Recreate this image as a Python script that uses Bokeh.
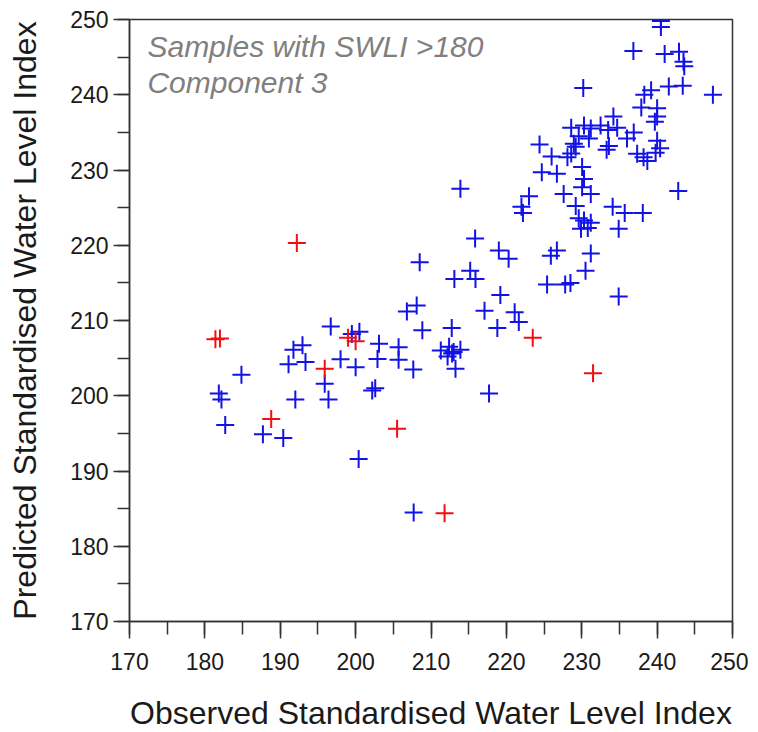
from bokeh.plotting import figure
from bokeh.models import Range1d, SingleIntervalTicker, Label, ColumnDataSource
from bokeh.embed import file_html
from bokeh.resources import INLINE

# ---- data ----
obs_blue = [181.85, 182.2, 182.7, 184.85, 187.7, 190.4, 192.0, 191.1, 191.75, 192.95,
            193.35, 195.9, 196.4, 196.7, 198.0, 199.5, 200.5, 200.0, 200.4, 202.2,
            202.6, 203.1, 202.9, 205.7, 205.7, 207.65, 206.8, 208.1, 208.85, 208.5,
            207.7, 211.3, 212.4, 213.0, 213.9, 212.2, 212.8, 213.25, 212.75, 213.1,
            215.2, 215.9, 215.85, 213.9, 217.1, 217.7, 218.8, 219.2, 219.0, 220.3,
            221.1, 221.65, 222.0, 222.2, 223.0, 224.4, 225.4, 225.9, 226.7, 224.7,
            226.7, 226.0, 227.6, 227.8, 228.5, 228.1, 228.6, 228.95, 229.2, 228.6,
            229.6, 230.3, 231.2, 230.95, 232.5, 233.5, 234.2, 234.7, 233.6, 233.3,
            230.05, 230.3, 230.05, 231.2, 229.2, 229.6, 230.3, 230.8, 229.9, 231.2,
            231.2, 230.5, 234.9, 234.1, 235.7, 238.1, 234.9, 242.8, 236.0, 236.9,
            237.35, 238.2, 238.7, 240.0, 240.4, 239.8, 238.3, 239.2, 237.9, 240.0,
            240.0, 239.7, 230.2, 241.55, 243.4, 247.4, 236.85, 241.0, 242.9, 243.5,
            243.6, 240.5, 240.5]
pred_blue = [200.3, 199.5, 196.1, 202.8, 194.9, 194.4, 199.5, 204.2, 206.1, 206.7,
             204.5, 201.6, 199.5, 209.2, 204.85, 208.2, 208.5, 203.8, 191.6, 200.7,
             201.0, 206.9, 204.9, 206.45, 204.8, 203.5, 211.2, 212.0, 208.7, 217.75,
             184.5, 206.0, 206.5, 205.8, 206.1, 205.2, 205.6, 203.6, 209.0, 215.5,
             216.6, 215.5, 220.9, 227.5, 211.3, 200.3, 209.0, 213.4, 219.3, 218.2,
             211.1, 209.8, 225.1, 224.3, 226.5, 233.4, 214.8, 218.6, 219.3, 229.7,
             229.5, 231.8, 226.8, 214.8, 215.0, 231.7, 232.2, 233.5, 233.1, 235.6,
             234.5, 235.9, 235.5, 234.2, 235.9, 235.3, 237.1, 235.6, 233.2, 232.7,
             230.4, 228.8, 227.7, 226.8, 225.2, 223.6, 223.3, 222.3, 222.2, 223.0,
             218.9, 216.6, 213.2, 225.1, 224.3, 224.3, 222.2, 227.2, 234.2, 235.0,
             232.15, 231.7, 231.2, 233.9, 232.9, 232.3, 240.0, 240.6, 238.3, 238.2,
             237.1, 236.4, 240.9, 241.1, 241.2, 240.0, 245.8, 245.4, 245.7, 244.4,
             243.8, 249.8, 249.0]

obs_red = [181.4, 182.0, 188.8, 192.2, 195.9, 199.0, 200.0, 205.5, 211.8, 223.5, 231.5]
pred_red = [207.5, 207.6, 196.9, 220.3, 203.6, 207.7, 207.25, 195.6, 184.4, 207.7, 203.0]

tick_values = [170, 180, 190, 200, 210, 220, 230, 240, 250]
note_lines = ["Samples with SWLI >180", "Component 3"]
x_title = "Observed Standardised Water Level Index"
y_title = "Predicted Standardised Water Level Index"

FONT = "Liberation Sans"
AX = "#333333"

p = figure(frame_width=603, frame_height=602,
           x_range=Range1d(tick_values[0], tick_values[-1]),
           y_range=Range1d(tick_values[0], tick_values[-1]),
           output_backend="svg", toolbar_location=None,
           min_border_left=129, min_border_top=19, min_border_right=16,
           min_border_bottom=10)

p.grid.visible = False
p.outline_line_color = AX
p.outline_line_width = 1.5
p.outline_line_alpha = 1.0
p.background_fill_color = "white"
p.border_fill_color = "white"

for ax in (p.xaxis[0], p.yaxis[0]):
    ax.ticker = SingleIntervalTicker(interval=10, num_minor_ticks=2)
    ax.axis_line_color = AX
    ax.axis_line_width = 1.5
    ax.major_tick_line_color = AX
    ax.major_tick_line_width = 1.5
    ax.minor_tick_line_color = AX
    ax.minor_tick_line_width = 1.5
    ax.major_tick_in = 0
    ax.minor_tick_in = 0
    ax.major_label_text_font = FONT
    ax.major_label_text_font_size = "23px"
    ax.major_label_text_color = "#1a1a1a"
    ax.axis_label_text_font = FONT
    ax.axis_label_text_font_size = "32px"
    ax.axis_label_text_font_style = "normal"
    ax.axis_label_text_color = "#1a1a1a"

p.xaxis.major_tick_out = 17
p.xaxis.minor_tick_out = 13
p.xaxis.major_label_standoff = 14
p.xaxis.axis_label = x_title
p.xaxis.axis_label_standoff = 22

p.yaxis.major_tick_out = 16
p.yaxis.minor_tick_out = 12
p.yaxis.major_label_standoff = 5
p.yaxis.axis_label = y_title
p.yaxis.axis_label_standoff = 24

src_b = ColumnDataSource(dict(x=obs_blue, y=pred_blue))
src_r = ColumnDataSource(dict(x=obs_red, y=pred_red))
p.scatter("x", "y", source=src_b, marker="cross", size=18,
          line_color="#1212e6", line_width=2)
p.scatter("x", "y", source=src_r, marker="cross", size=18,
          line_color="#f01010", line_width=2)

p.add_layout(Label(x=172.38, y=246.4, text=note_lines[0], text_font=FONT,
                   text_font_size="30px", text_font_style="italic",
                   text_color="#808080", text_baseline="alphabetic"))
p.add_layout(Label(x=172.38, y=241.6, text=note_lines[1], text_font=FONT,
                   text_font_size="30px", text_font_style="italic",
                   text_color="#808080", text_baseline="alphabetic"))

open("out.html", "w").write(file_html(p, INLINE))
